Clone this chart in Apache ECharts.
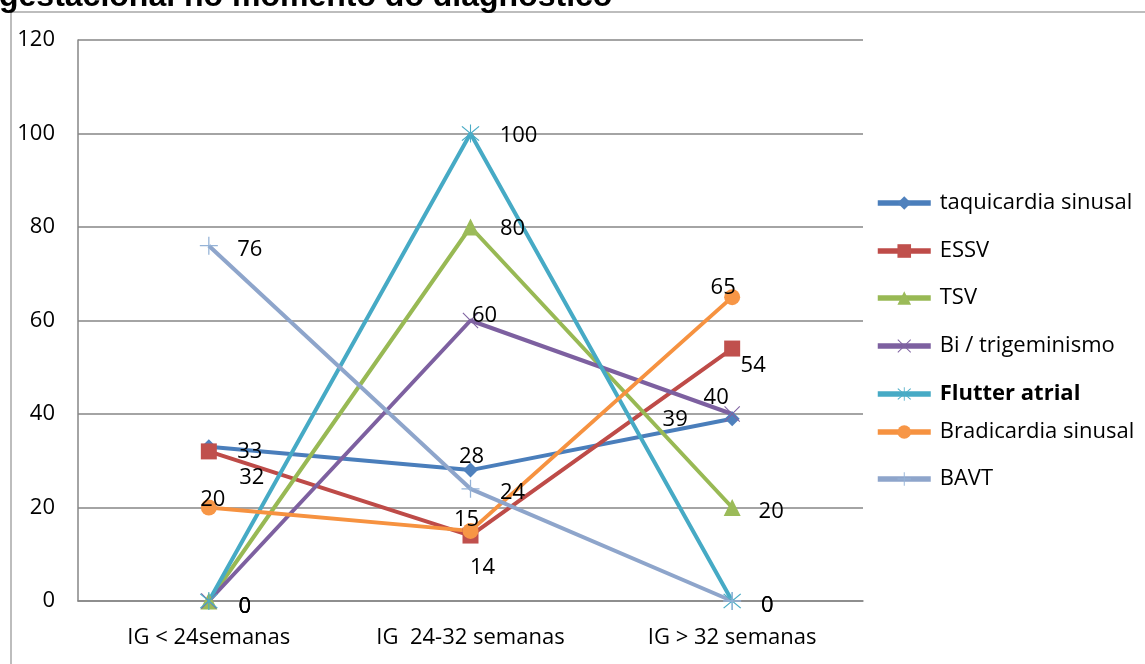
<!DOCTYPE html>
<html>
<head>
<meta charset="utf-8">
<script src="https://cdn.jsdelivr.net/npm/echarts@6/dist/echarts.min.js"></script>
<style>
  html, body { margin: 0; padding: 0; background: #fff; }
  #chart { width: 1145px; height: 664px; }
</style>
</head>
<body>
<div id="chart"></div>
<script>
// Idade gestacional no momento do diagnóstico
const categories = ['IG < 24semanas', 'IG  24-32 semanas', 'IG > 32 semanas'];
const yTicks = [0, 20, 40, 60, 80, 100, 120];

const seriesNames = [
  'taquicardia sinusal', 'ESSV', 'TSV', 'Bi / trigeminismo',
  'Flutter atrial', 'Bradicardia sinusal', 'BAVT'
];
const taquicardiaSinusal = [33, 28, 39];
const essv = [32, 14, 54];
const tsv = [0, 80, 20];
const biTrigeminismo = [0, 60, 40];
const flutterAtrial = [0, 100, 0];
const bradicardiaSinusal = [20, 15, 65];
const bavt = [76, 24, 0];
const seriesValues = [taquicardiaSinusal, essv, tsv, biTrigeminismo, flutterAtrial, bradicardiaSinusal, bavt];

// ---- styling ----
const FONT = '"Open Sans", "Liberation Sans", sans-serif';
const lineColors = ['#4A7EBB', '#BE4B48', '#98B954', '#7D60A0', '#46AAC5', '#F69240', '#8EA5CB'];
const markerColors = ['#4F81BD', '#C0504D', '#9BBB59', '#8064A2', '#4BACC6', '#F79646', '#95B3D7'];
const X_SYMBOL = 'path://M0,1L1,0L10,9L19,0L20,1L11,10L20,19L19,20L10,11L1,20L0,19L9,10Z';
const STAR_SYMBOL = 'path://M0,1L1,0L10,9L19,0L20,1L11,10L20,19L19,20L10,11L1,20L0,19L9,10Z M9.4,-2H10.6V22H9.4Z';
const PLUS_SYMBOL = 'path://M9.3,0H10.7V9.3H20V10.7H10.7V20H9.3V10.7H0V9.3H9.3Z';
const symbols = ['diamond', 'rect', 'triangle', X_SYMBOL, STAR_SYMBOL, 'circle', PLUS_SYMBOL];
const symbolSizes = [15, 16, 17, 16, 18, 16, 18];
// label offsets (px) from each point, per series
const labelOffsets = [
  [[41, 5], [1, -13], [-57, 1]],
  [[43, 26], [12, 32], [21, 17]],
  [[36, 6], [42, 2], [39, 4]],
  [[36, 6], [14, -5], [-16, -16]],
  [[36, 6], [48, 2], [35, 5]],
  [[4, -8], [-4, -11], [-9, -9]],
  [[41, 4], [42, 4], [35, 5]]
];
const legendCenters = [198, 246, 293, 341, 389, 427, 474];

const series = seriesNames.map((name, i) => ({
  name,
  type: 'line',
  data: seriesValues[i].map((v, j) => ({
    value: v,
    label: { offset: labelOffsets[i][j] }
  })),
  symbol: symbols[i],
  symbolSize: symbolSizes[i],
  showAllSymbol: true,
  lineStyle: { color: lineColors[i], width: 4 },
  itemStyle: { color: markerColors[i], borderWidth: 0 },
  emphasis: { disabled: true },
  animation: false,
  label: {
    show: true,
    position: 'inside',
    align: 'center',
    verticalAlign: 'middle',
    color: '#000',
    fontFamily: FONT,
    fontSize: 22
  }
}));

const legends = seriesNames.map((name, i) => ({
  data: [{ name, textStyle: i === 4 ? { fontWeight: 'bold' } : {} }],
  left: 870,
  top: legendCenters[i] - 13,
  itemWidth: 53,
  itemHeight: 17,
  selectedMode: false,
  lineStyle: { width: 5.5 },
  textStyle: {
    color: '#000',
    fontFamily: FONT,
    fontSize: 22,
    lineHeight: 26,
    padding: [0, 0, 0, 4]
  }
}));

const chart = echarts.init(document.getElementById('chart'), null, { renderer: 'canvas' });
chart.setOption({
  backgroundColor: '#fff',
  animation: false,
  graphic: [
    {
      type: 'rect',
      shape: { x: 11, y: 12, width: 1200, height: 700 },
      style: { fill: 'none', stroke: '#BDBDBD', lineWidth: 2 },
      silent: true
    },
    {
      type: 'text',
      left: -1,
      top: -19,
      style: {
        text: 'gestacional no momento do diagnóstico',
        font: 'bold 32px "Liberation Sans", Arial, sans-serif',
        fill: '#000'
      },
      silent: true
    }
  ],
  grid: { left: 78, right: 282, top: 40, bottom: 63, containLabel: false },
  legend: legends,
  xAxis: {
    type: 'category',
    data: categories,
    boundaryGap: true,
    axisLine: { show: true, lineStyle: { color: '#868686', width: 1.5 } },
    axisTick: { show: false },
    axisLabel: { color: '#000', fontFamily: FONT, fontSize: 22, margin: 26 },
    splitLine: { show: false }
  },
  yAxis: {
    type: 'value',
    min: yTicks[0],
    max: yTicks[yTicks.length - 1],
    interval: yTicks[1] - yTicks[0],
    axisLine: { show: true, lineStyle: { color: '#868686', width: 1.5 } },
    axisTick: { show: false },
    axisLabel: { color: '#000', fontFamily: FONT, fontSize: 22, margin: 23 },
    splitLine: { show: true, lineStyle: { color: '#868686', width: 1.5 } }
  },
  series
});
</script>
</body>
</html>
